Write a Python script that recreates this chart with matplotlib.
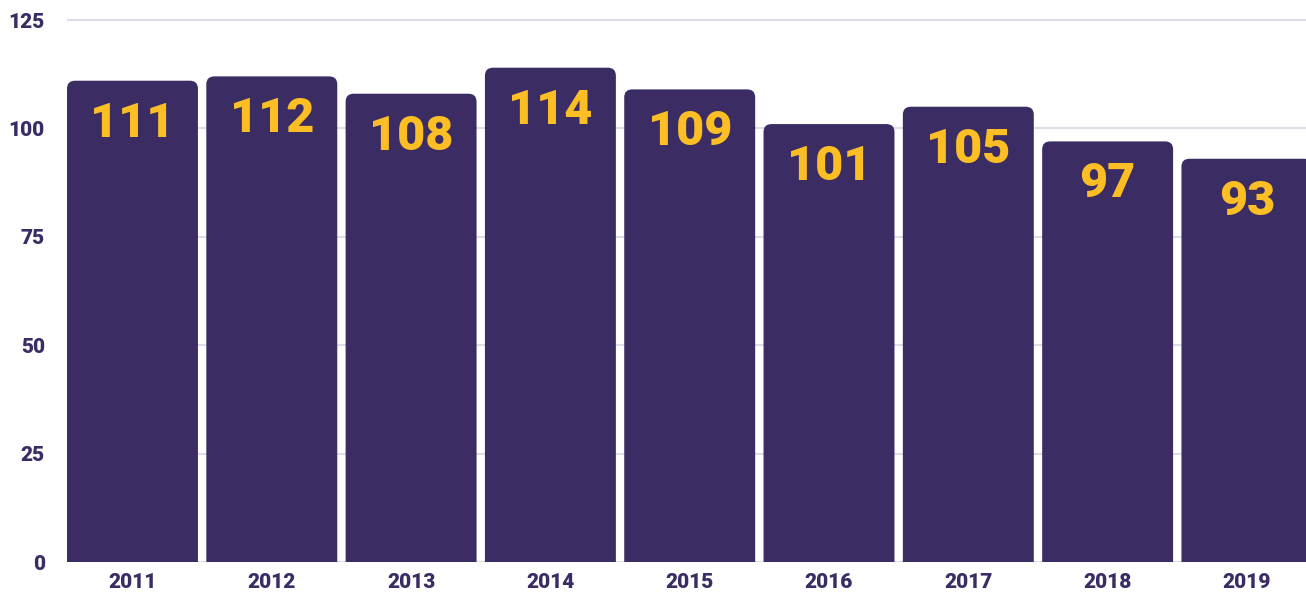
import matplotlib
matplotlib.use("Agg")
import matplotlib.pyplot as plt
from matplotlib.patches import FancyBboxPatch

years = ["2011", "2012", "2013", "2014", "2015", "2016", "2017", "2018", "2019"]
values = [111, 112, 108, 114, 109, 101, 105, 97, 93]
yticks = [0, 25, 50, 75, 100, 125]

BAR = "#3b2d63"
YEL = "#fbbe24"
GRID = "#dedde8"

plt.rcParams['font.family'] = ['Roboto', 'DejaVu Sans']

W, H = 1306, 599
fig = plt.figure(figsize=(W / 100, H / 100), dpi=100)
ax = fig.add_axes([67 / W, 37 / H, 1239 / W, 555 / H])
ax.set_xlim(-0.47, 8.424)
ax.set_ylim(0, 128)

x = list(range(len(years)))
bars = ax.bar(x, values, width=0.94, color=BAR, zorder=2)

# round the top corners: replace each bar with a rounded patch
xpx = 1239 / (8.424 + 0.47)
ypx = 555 / 128
aspect = xpx / ypx
for b in bars:
    b.set_visible(False)
    bx, bw, bh = b.get_x(), b.get_width(), b.get_height()
    p = FancyBboxPatch((bx, -10), bw, bh + 10,
                       boxstyle="round,pad=0,rounding_size=%f" % (8 / xpx),
                       mutation_aspect=aspect, facecolor=BAR, edgecolor='none',
                       zorder=2)
    ax.add_patch(p)

for xi, v in zip(x, values):
    ax.annotate(str(v), (xi, v), xytext=(0, -31), textcoords='offset points',
                ha='center', va='center', color=YEL, fontsize=35,
                fontweight='black', zorder=3)

ax.set_yticks(yticks)
ax.set_yticklabels([str(t) for t in yticks])
ax.set_xticks(x)
ax.set_xticklabels(years)
ax.yaxis.grid(True, color=GRID, linewidth=1.5, zorder=0)
ax.set_axisbelow(True)
for s in ax.spines.values():
    s.set_visible(False)
ax.tick_params(axis='both', length=0, colors=BAR, labelsize=15)
ax.tick_params(axis='y', pad=16)
ax.tick_params(axis='x', pad=8)
for lab in ax.get_xticklabels() + ax.get_yticklabels():
    lab.set_fontweight('black')

fig.savefig("out.png", dpi=100)
